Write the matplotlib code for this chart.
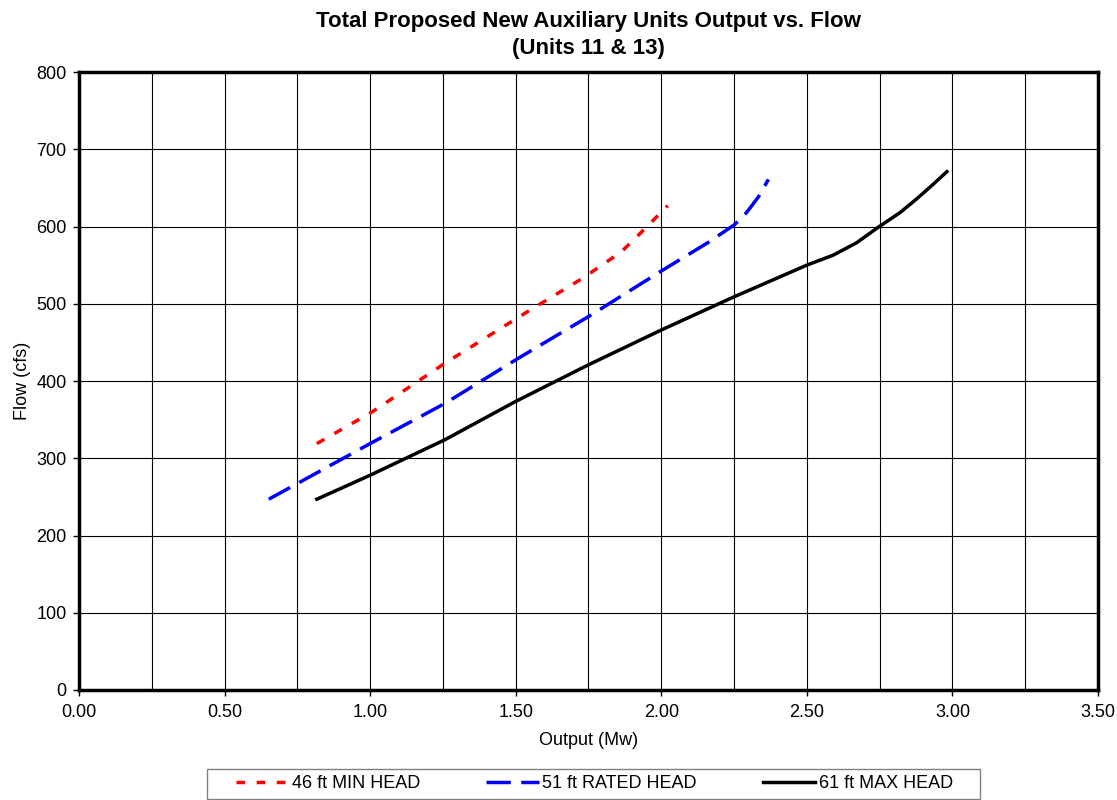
import matplotlib
matplotlib.use("Agg")
import matplotlib.pyplot as plt
from matplotlib.patches import Rectangle
from matplotlib.ticker import MultipleLocator

plt.rcParams['font.family'] = ['Liberation Sans', 'DejaVu Sans']

# 46 ft MIN HEAD
min_output = [0.817, 1.007, 1.257, 1.533, 1.730, 1.862, 1.914, 1.967, 2.022]
min_flow = [319, 360, 423, 488, 533, 567, 586, 606, 627]

# 51 ft RATED HEAD
rated_output = [0.652, 1.000, 1.257, 1.507, 1.757, 2.007, 2.164, 2.250, 2.282, 2.309, 2.335, 2.368]
rated_flow = [247, 319, 371, 429, 485, 544, 580, 602, 613, 626, 639, 661]

# 61 ft MAX HEAD
max_output = [0.817, 1.000, 1.257, 1.497, 1.750, 2.000, 2.250, 2.500, 2.591, 2.671,
              2.749, 2.820, 2.878, 2.935, 2.981]
max_flow = [247, 278, 324, 373, 421, 466, 509, 550, 563, 579, 600, 618, 636, 655, 671]

fig = plt.figure(figsize=(11.17, 8), dpi=100)
ax = fig.add_axes([0.0707, 0.1375, 0.9123, 0.7725])

ax.plot(min_output, min_flow, color='red', lw=2.5, dashes=(2.5, 3.3), label='46 ft MIN HEAD')
ax.plot(rated_output, rated_flow, color='blue', lw=2.5, dashes=(7, 3), label='51 ft RATED HEAD')
ax.plot(max_output, max_flow, color='black', lw=2.5, label='61 ft MAX HEAD')

ax.set_xlim(0, 3.5)
ax.set_ylim(0, 800)
ax.xaxis.set_major_locator(MultipleLocator(0.5))
ax.xaxis.set_minor_locator(MultipleLocator(0.25))
ax.yaxis.set_major_locator(MultipleLocator(100))
ax.xaxis.set_major_formatter(lambda v, p: f"{v:.2f}")
ax.grid(True, which='both', axis='x', color='black', lw=0.8)
ax.grid(True, which='major', axis='y', color='black', lw=0.8)
ax.tick_params(which='minor', length=0)
ax.tick_params(which='major', direction='out', length=4, width=1, labelsize=13)
ax.tick_params(axis='x', pad=6)
ax.tick_params(axis='y', pad=5)
for s in ax.spines.values():
    s.set_linewidth(2.5)

ax.set_xlabel('Output (Mw)', fontsize=13, labelpad=8)
ax.set_ylabel('Flow (cfs)', fontsize=13, labelpad=4)
ax.set_title('Total Proposed New Auxiliary Units Output vs. Flow\n(Units 11 & 13)',
             fontsize=16, fontweight='bold', pad=13, linespacing=1.4)

# legend entries spread across, frame drawn separately (Excel-style box)
leg = fig.legend(loc='center left', bbox_to_anchor=(0.2113, 0.0, 0.6419, 0.04), mode='expand',
                 ncol=3, fontsize=13, handlelength=2.9, handletextpad=0.2,
                 frameon=False, borderaxespad=0.0, borderpad=0.0)
fig.patches.append(Rectangle((0.1853, 0.0013), 0.692, 0.0375, transform=fig.transFigure,
                             fill=False, edgecolor='#808080', lw=1.0))

fig.savefig('out.png', dpi=100, facecolor='white')
